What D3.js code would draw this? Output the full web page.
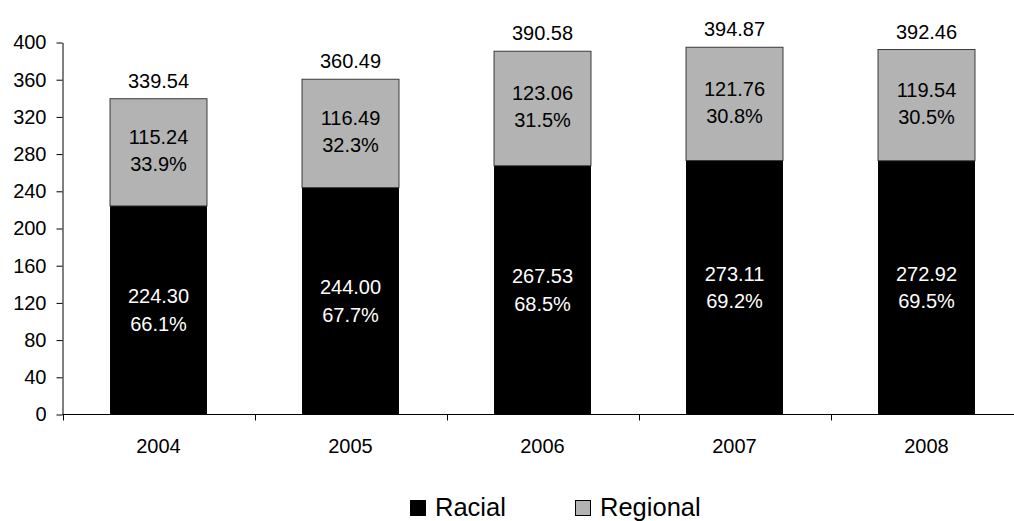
<!DOCTYPE html>
<html>
<head>
<meta charset="utf-8">
<script src="https://cdn.jsdelivr.net/npm/d3@7"></script>
<style>
  html, body { margin: 0; padding: 0; background: #fff; }
  svg { display: block; }
  text { font-family: "Liberation Sans", Arial, sans-serif; }
</style>
</head>
<body>
<script>
// Yearly amounts, split into two stacked series
const years = ["2004", "2005", "2006", "2007", "2008"];
const racial = [224.30, 244.00, 267.53, 273.11, 272.92];
const regional = [115.24, 116.49, 123.06, 121.76, 119.54];
const racialPct = ["66.1%", "67.7%", "68.5%", "69.2%", "69.5%"];
const regionalPct = ["33.9%", "32.3%", "31.5%", "30.8%", "30.5%"];
const totals = ["339.54", "360.49", "390.58", "394.87", "392.46"];
const yTicks = [0, 40, 80, 120, 160, 200, 240, 280, 320, 360, 400];
const seriesNames = ["Racial", "Regional"];
const seriesColors = ["#000000", "#b3b3b3"];

const W = 1014, H = 521;
const fontSize = 20;

const svg = d3.select("body").append("svg")
  .attr("width", W).attr("height", H);

const x = d3.scaleBand().domain(years).range([62.5, 1022.5]).paddingInner(0.495).paddingOuter(0.2475);
const y = d3.scaleLinear().domain([0, 400]).range([414.5, 42.5]);

const rows = years.map((yr, i) => ({
  year: yr, racial: racial[i], regional: regional[i],
  rp: racialPct[i], gp: regionalPct[i], total: totals[i]
}));

// Racial segment (bottom)
svg.append("g").selectAll("rect").data(rows).join("rect")
  .attr("x", d => x(d.year))
  .attr("width", x.bandwidth())
  .attr("y", d => y(d.racial))
  .attr("height", d => y(0) - y(d.racial))
  .attr("fill", seriesColors[0]);

// Regional segment (top)
svg.append("g").selectAll("rect").data(rows).join("rect")
  .attr("x", d => x(d.year))
  .attr("width", x.bandwidth())
  .attr("y", d => y(d.racial + d.regional))
  .attr("height", d => y(d.racial) - y(d.racial + d.regional))
  .attr("fill", seriesColors[1])
  .attr("stroke", "#3a3a3a")
  .attr("stroke-width", 1);

// Y axis
const yAxis = d3.axisLeft(y).tickValues(yTicks).tickSize(6).tickPadding(10).tickSizeOuter(0);
const gy = svg.append("g").attr("transform", "translate(62.5,0)").call(yAxis);
gy.selectAll("text").attr("font-size", fontSize).attr("fill", "#000").attr("font-family", "Liberation Sans, Arial, sans-serif");
gy.selectAll("line, path").attr("stroke", "#000");

// X axis with tick marks between categories
const gx = svg.append("g").attr("transform", "translate(0,414.5)");
gx.append("line").attr("x1", 62.5).attr("x2", W).attr("stroke", "#000");
const bounds = d3.range(years.length + 1).map(i => x.range()[0] + i * x.step());
gx.selectAll(".tk").data(bounds).join("line")
  .attr("x1", d => Math.round(d) + 0.5).attr("x2", d => Math.round(d) + 0.5)
  .attr("y1", 0).attr("y2", 6).attr("stroke", "#000");
gx.selectAll(".lbl").data(years).join("text")
  .attr("x", d => x(d) + x.bandwidth() / 2)
  .attr("y", 38)
  .attr("text-anchor", "middle")
  .attr("font-size", fontSize)
  .text(d => d);

// Labels
const lbl = svg.append("g").attr("font-size", fontSize).attr("text-anchor", "middle");
rows.forEach(d => {
  const cx = x(d.year) + x.bandwidth() / 2;
  const midR = (y(0) + y(d.racial)) / 2;
  const midG = (y(d.racial) + y(d.racial + d.regional)) / 2;
  lbl.append("text").attr("x", cx).attr("y", midR - 7).attr("fill", "#fff").text(d.racial.toFixed(2));
  lbl.append("text").attr("x", cx).attr("y", midR + 20.5).attr("fill", "#fff").text(d.rp);
  lbl.append("text").attr("x", cx).attr("y", midG - 8).attr("fill", "#000").text(d.regional.toFixed(2));
  lbl.append("text").attr("x", cx).attr("y", midG + 19).attr("fill", "#000").text(d.gp);
  lbl.append("text").attr("x", cx).attr("y", y(d.racial + d.regional) - 11).attr("fill", "#000").text(d.total);
});

// Legend
const legendX = [410, 575];
const lg = svg.append("g");
seriesNames.forEach((name, i) => {
  lg.append("rect").attr("x", legendX[i] + 0.5).attr("y", 500.5).attr("width", 15).attr("height", 15)
    .attr("fill", seriesColors[i]).attr("stroke", "#000").attr("stroke-width", 1);
  lg.append("text").attr("x", legendX[i] + 25).attr("y", 516).attr("font-size", 25.5).text(name);
});
</script>
</body>
</html>
